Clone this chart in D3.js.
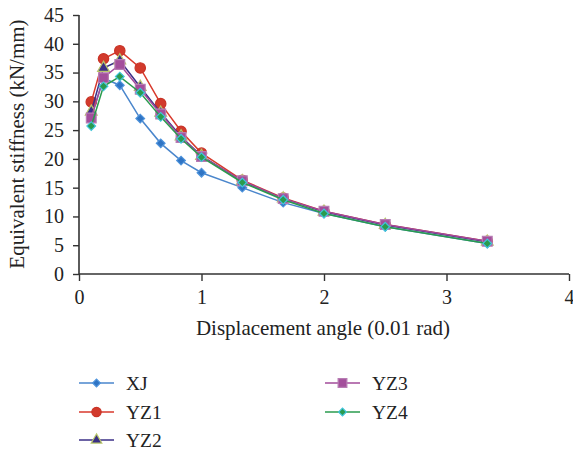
<!DOCTYPE html>
<html><head><meta charset="utf-8">
<script src="https://cdn.jsdelivr.net/npm/d3@7"></script>
<style>body{margin:0;background:#fff}</style>
</head><body>
<script>
const angles = [0.1, 0.2, 0.333, 0.5, 0.667, 0.833, 1.0, 1.333, 1.667, 2.0, 2.5, 3.333];
const XJ  = [27.2, 34.0, 32.8, 27.0, 22.7, 19.7, 17.6, 15.0, 12.4, 10.5, 8.2, 5.3];
const YZ1 = [29.9, 37.4, 38.8, 35.8, 29.6, 24.8, 21.0, 16.3, 13.2, 10.9, 8.6, 5.7];
const YZ2 = [28.2, 35.8, 37.1, 32.5, 28.0, 23.9, 20.5, 16.1, 13.1, 10.8, 8.5, 5.6];
const YZ3 = [27.1, 34.1, 36.4, 32.1, 27.8, 23.7, 20.4, 16.2, 13.1, 10.9, 8.6, 5.7];
const YZ4 = [25.7, 32.6, 34.3, 31.5, 27.3, 23.5, 20.3, 15.9, 12.9, 10.5, 8.2, 5.3];
const seriesNames = ["XJ", "YZ1", "YZ2", "YZ3", "YZ4"];
const xTicks = [0, 1, 2, 3, 4];
const yTicks = [0, 5, 10, 15, 20, 25, 30, 35, 40, 45];

const W = 573, H = 451;
const svg = d3.select("body").append("svg").attr("width", W).attr("height", H)
  .attr("font-family", "Liberation Serif");
const x = d3.scaleLinear().domain([0, 4]).range([79, 569]);
const y = d3.scaleLinear().domain([0, 45]).range([274, 15]);
const font = "Liberation Serif";

const styles = [
  {line: "#4a86cc", fill: "#2f74c4", stroke: "#4f94dc", shape: d3.symbolSquare, size: 38, rot: 45},
  {line: "#d8392c", fill: "#d23a2c", stroke: "#c93326", shape: d3.symbolCircle, size: 85, rot: 0},
  {line: "#3b2f87", fill: "#3a2f86", stroke: "#b8c66a", shape: d3.symbolTriangle, size: 60, rot: 0},
  {line: "#a24b9a", fill: "#a34f9b", stroke: "#b77cb3", shape: d3.symbolSquare, size: 95, rot: 0},
  {line: "#2a9b4e", fill: "#2a9b4e", stroke: "#40c5dc", shape: d3.symbolSquare, size: 38, rot: 45}
];
const data = [XJ, YZ1, YZ2, YZ3, YZ4];

// axes
const gx = svg.append("g").attr("transform", "translate(0,274)")
  .call(d3.axisBottom(x).tickValues(xTicks).tickSize(7).tickPadding(9).tickFormat(d3.format("d")));
const gy = svg.append("g").attr("transform", "translate(79,0)")
  .call(d3.axisLeft(y).tickValues(yTicks).tickSize(6).tickPadding(9).tickFormat(d3.format("d")));
[gx, gy].forEach(g => {
  g.attr("font-family", font).attr("font-size", 20);
  g.select(".domain").attr("stroke", "#333").attr("stroke-width", 1.6);
  g.selectAll(".tick line").attr("stroke", "#333").attr("stroke-width", 1.4);
  g.selectAll(".tick text").attr("fill", "#222");
});
gx.select(".domain").attr("d", `M79,0H569`);
gy.select(".domain").attr("d", `M0,15V274`);

// series
const line = d3.line().x((d, i) => x(angles[i])).y(d => y(d));
data.forEach((vals, k) => {
  const s = styles[k];
  svg.append("path").datum(vals).attr("d", line)
    .attr("fill", "none").attr("stroke", s.line).attr("stroke-width", 1.5);
  svg.append("g").selectAll("path").data(vals).join("path")
    .attr("transform", (d, i) => `translate(${x(angles[i])},${y(d)}) rotate(${s.rot})`)
    .attr("d", d3.symbol().type(s.shape).size(s.size))
    .attr("fill", s.fill).attr("stroke", s.stroke).attr("stroke-width", 1.2);
});

// axis titles
svg.append("text").attr("x", 323).attr("y", 335).attr("text-anchor", "middle")
  .attr("font-family", font).attr("font-size", 21).attr("fill", "#222")
  .text("Displacement angle (0.01 rad)");
svg.append("text").attr("transform", "translate(24,144) rotate(-90)").attr("text-anchor", "middle")
  .attr("font-family", font).attr("font-size", 21).attr("fill", "#222")
  .text("Equivalent stiffness (kN/mm)");

// legend
const legPos = [[79, 383], [79, 412], [79, 440], [325, 383], [325, 412]];
seriesNames.forEach((name, k) => {
  const s = styles[k];
  const [lx, ly] = legPos[k];
  const g = svg.append("g");
  g.append("line").attr("x1", lx).attr("x2", lx + 35).attr("y1", ly).attr("y2", ly)
    .attr("stroke", s.line).attr("stroke-width", 1.5);
  g.append("path").attr("transform", `translate(${lx + 17.5},${ly}) rotate(${s.rot})`)
    .attr("d", d3.symbol().type(s.shape).size(s.size * 0.8))
    .attr("fill", s.fill).attr("stroke", s.stroke).attr("stroke-width", 1.2);
  g.append("text").attr("x", lx + 47).attr("y", ly + 7)
    .attr("font-family", font).attr("font-size", 19.5).attr("fill", "#222").text(name);
});
</script>
</body></html>
